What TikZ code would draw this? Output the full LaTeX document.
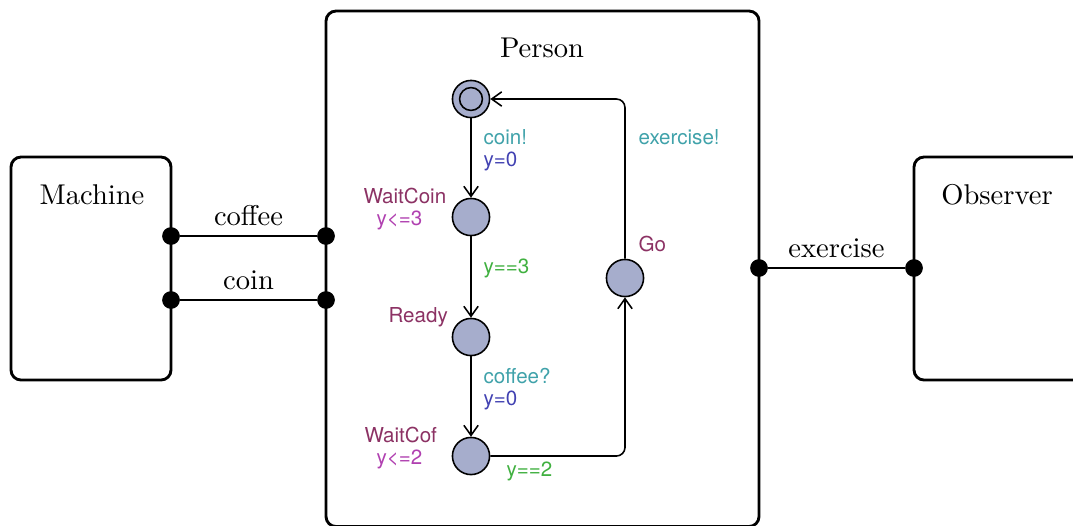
\documentclass[tikz,border=0pt]{standalone}
\usepackage{fontspec}
\newfontfamily\uppfont{TeX Gyre Heros}
\usetikzlibrary{arrows.meta}
\definecolor{statefill}{RGB}{166,173,204}
\definecolor{synccol}{RGB}{64,162,170}
\definecolor{assigncol}{RGB}{66,66,178}
\definecolor{guardcol}{RGB}{64,176,64}
\definecolor{namecol}{RGB}{140,50,100}
\definecolor{invcol}{RGB}{176,64,176}
\tikzset{
  procbox/.style={draw, line width=1pt, rounded corners=3.5pt},
  port/.style={circle, fill=black, inner sep=0pt, minimum size=6.2pt},
  chan/.style={line width=1pt},
  chanlabel/.style={font=\normalsize},
  state/.style={circle, draw, fill=statefill, line width=0.55pt, inner sep=0pt, minimum size=13pt},
  edge/.style={line width=0.55pt, -{Straight Barb[length=3.5pt,width=5pt]}},
  lab/.style={font=\uppfont\fontsize{7.2}{8.6}\selectfont, inner sep=0pt, anchor=west},
}
\begin{document}
\begin{tikzpicture}[x=0.35pt,y=-0.35pt]
\useasboundingbox (0,0) rectangle (1073,525);
\clip (0,0) rectangle (1073,525);
% process boxes
\draw[procbox] (11,157) rectangle (171,380);
\node[chanlabel] (mname) at (92,195) {Machine};
\draw[procbox] (326,11) rectangle (759,526.5);
\node[chanlabel] (pname) at (542,48) {Person};
\draw[procbox] (914,157) rectangle (1100,380);
\node[chanlabel] (oname) at (997,195) {Observer};
% ports
\node[port] (mcoffee) at (171,236) {};
\node[port] (mcoin) at (171,300) {};
\node[port] (pcoffee) at (326,236) {};
\node[port] (pcoin) at (326,300) {};
\node[port] (pex) at (759,268) {};
\node[port] (oex) at (914,268) {};
\draw[chan] (mcoffee) -- node[above=-0.3pt, chanlabel] (lcoffee) {coffee} (pcoffee);
\draw[chan] (mcoin) -- node[above=-0.3pt, chanlabel] (lcoin) {coin} (pcoin);
\draw[chan] (pex) -- node[above=-0.3pt, chanlabel] (lex) {exercise} (oex);
% automaton
\node[state] (init) at (471,99) {};
\draw[line width=0.55pt] (init.center) circle[radius=4pt];
\node[state] (wcoin) at (471,217) {};
\node[state] (ready) at (471,337) {};
\node[state] (wcof) at (471,456) {};
\node[state] (go) at (625,278) {};
\draw[edge] (init) -- (wcoin);
\draw[edge] (wcoin) -- (ready);
\draw[edge] (ready) -- (wcof);
\draw[edge, rounded corners=3pt] (wcof) -- (wcof -| go) -- (go);
\draw[edge, rounded corners=3pt] (go) -- (go |- init) -- (init);
% labels
\node[lab, text=synccol] (l1) at (483,137) {coin!};
\node[lab, text=assigncol] (l2) at (483,161) {y=0};
\node[lab, text=guardcol] (l3) at (483,268) {y==3};
\node[lab, text=synccol] (l4) at (483,376) {coffee?};
\node[lab, text=assigncol] (l5) at (483,400) {y=0};
\node[lab, text=guardcol] (l6) at (506,471) {y==2};
\node[lab, text=synccol] (l7) at (638,137) {exercise!};
\node[lab, text=namecol] (n5) at (638,244) {Go};
\node[lab, text=namecol] (n2) at (363,196) {WaitCoin};
\node[lab, text=invcol] (i2) at (376,220) {y<=3};
\node[lab, text=namecol] (n3) at (388,317) {Ready};
\node[lab, text=namecol] (n4) at (364,435) {WaitCof};
\node[lab, text=invcol] (i4) at (376,459) {y<=2};
\end{tikzpicture}
\end{document}
